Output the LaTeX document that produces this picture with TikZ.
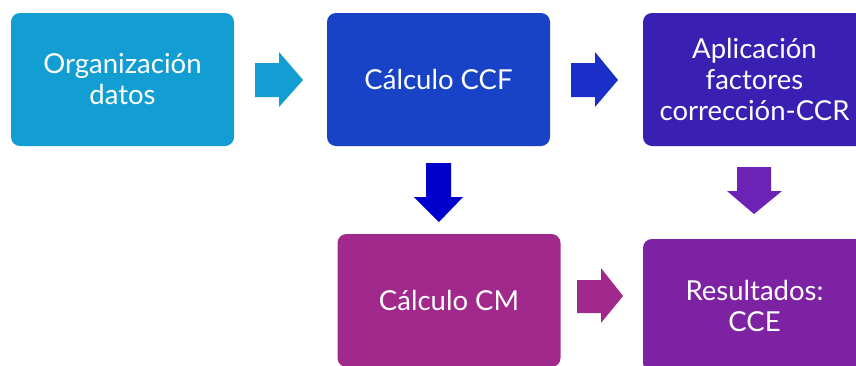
\documentclass[tikz,border=0pt]{standalone}
\usepackage{fontspec}
\setmainfont{Lato}
\definecolor{cyanbox}{HTML}{129DD3}
\definecolor{bluebox}{HTML}{1843C6}
\definecolor{indigobox}{HTML}{3A1FB3}
\definecolor{magentabox}{HTML}{A0298B}
\definecolor{purplebox}{HTML}{7E22A4}
\definecolor{bluearrow}{HTML}{1A2EC8}
\definecolor{deepblue}{HTML}{0000CD}
\definecolor{violetarrow}{HTML}{6B22B5}
\tikzset{
  stepbox/.style={rounded corners=9pt, minimum width=223pt, minimum height=133pt,
    text=white, align=center, font=\fontsize{27.5}{31}\selectfont, inner sep=0pt}
}
\begin{document}
\begin{tikzpicture}[x=1pt, y=-1pt]
    \useasboundingbox (0,0) rectangle (856,365);
    % boxes
    \node[stepbox, fill=cyanbox] (datos) at (122.5,79.5) {Organización\\datos};
    \node[stepbox, fill=bluebox] (ccf) at (438.5,79.5) {Cálculo CCF};
    \node[stepbox, fill=indigobox] (ccr) at (754.5,79.5) {Aplicación\\factores\\corrección-CCR};
    \node[stepbox, fill=magentabox] (cm) at (449,300.5) {Cálculo CM};
    \node[stepbox, fill=purplebox] (cce) at (754.5,305.5) {Resultados:\\CCE};
    % block arrows to the right
    \fill[cyanbox] (255,63) -- (279,63) -- (279,52) -- (303,80) -- (279,107) -- (279,97) -- (255,97) -- cycle;
    \fill[bluearrow] (571,63) -- (595,63) -- (595,52) -- (618,80) -- (595,107) -- (595,97) -- (571,97) -- cycle;
    \fill[magentabox] (577,280) -- (601,280) -- (601,268) -- (623,296) -- (601,323) -- (601,313) -- (577,313) -- cycle;
    % block arrows downwards
    \fill[deepblue] (426,163) -- (451,163) -- (451,197) -- (463,197) -- (439,222) -- (414,197) -- (426,197) -- cycle;
    \fill[violetarrow] (737,167) -- (771,167) -- (771,191) -- (782,191) -- (754,214) -- (727,191) -- (737,191) -- cycle;
\end{tikzpicture}
\end{document}
